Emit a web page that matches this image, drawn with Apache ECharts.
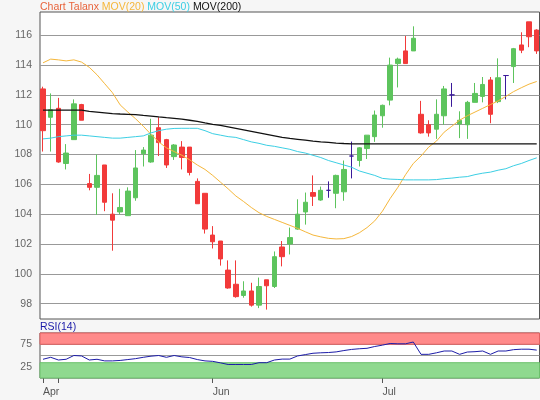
<!doctype html>
<html>
<head>
<meta charset="utf-8">
<title>Chart Talanx</title>
<script src="https://cdn.jsdelivr.net/npm/echarts@6/dist/echarts.min.js"></script>
<style>
html,body{margin:0;padding:0;background:#f6f6f6;}
</style>
</head>
<body>
<div id="chart" style="width:540px;height:400px;"></div>
<script type="text/javascript">
// daily candles (index 0 = first visible day)
var open  = [112.4,110.5,111.1,107.4,109.0,111.35,106.05,105.8,107.3,104.0,104.15,103.9,105.1,108.05,107.5,109.8,109.0,107.86,108.5,108.5,106.2,105.4,102.6,102.2,100.25,99.3,98.55,98.85,97.9,99.6,99.15,101.8,102.0,103.0,104.15,105.45,104.95,105.6,105.4,105.5,107.9,107.6,108.4,109.2,110.6,111.65,114.1,114.95,114.95,110.7,110.0,109.7,110.6,112.0,110.05,110.0,111.5,111.9,113.0,111.55,113.3,113.9,115.35,116.9,116.35];
var close = [109.6,111.0,107.5,108.1,111.4,110.3,105.8,106.6,104.8,103.6,104.45,105.55,107.1,108.3,109.3,108.8,107.3,108.64,107.8,106.8,104.7,103.0,102.15,101.0,99.05,98.47,98.85,97.9,99.15,99.2,101.15,101.15,102.43,104.0,104.8,105.2,105.6,105.6,106.6,107.0,107.9,108.45,109.3,110.65,111.3,114.0,114.4,114.1,115.8,109.45,109.45,110.7,112.4,112.0,110.3,111.5,112.1,112.7,110.7,113.15,113.3,115.1,115.0,115.9,114.95];
var low   = [108.2,108.2,107.45,107.0,109.0,110.3,105.6,103.95,104.2,101.55,104.0,103.9,104.9,107.2,107.45,107.9,107.1,107.64,107.0,106.6,104.7,102.7,101.7,100.55,99.0,98.4,98.4,97.8,97.7,97.6,99.05,100.5,101.3,102.95,103.3,104.55,104.9,105.1,104.4,104.9,106.4,107.2,107.7,108.85,109.8,111.3,112.5,114.1,114.95,109.4,109.2,109.05,110.0,111.2,109.1,109.05,111.5,111.5,110.1,111.45,111.7,112.8,114.8,115.2,114.75];
var high  = [112.55,112.1,111.8,108.7,111.7,111.4,106.7,108.0,107.3,105.4,105.7,105.8,108.3,108.5,110.4,110.5,109.05,108.7,108.9,108.5,106.4,105.4,103.2,102.2,100.9,100.9,99.5,99.4,99.75,99.6,101.5,102.2,103.1,105.0,105.45,106.6,105.85,106.2,106.65,107.6,108.87,108.5,109.3,110.95,111.35,114.5,114.5,115.95,116.6,111.6,110.3,111.7,112.6,112.8,110.9,111.6,112.8,113.2,113.2,114.45,113.3,115.15,116.2,116.9,116.4];

var mov20  = [114.15,114.4,114.35,114.28,114.35,114.2,113.85,113.35,112.75,112.15,111.33,110.85,110.4,109.9,109.35,108.85,108.45,108.2,107.95,107.65,107.3,107.0,106.6,106.15,105.7,105.22,104.85,104.45,104.1,103.85,103.65,103.45,103.25,103.05,102.82,102.6,102.48,102.38,102.34,102.36,102.5,102.75,103.1,103.55,104.2,105.05,105.8,106.65,107.4,107.9,108.5,108.9,109.5,109.9,110.3,110.6,110.85,111.1,111.35,111.6,111.9,112.22,112.48,112.72,112.9];
var mov50  = [109.05,109.1,109.2,109.25,109.3,109.3,109.25,109.2,109.15,109.1,109.1,109.15,109.2,109.25,109.45,109.6,109.7,109.75,109.76,109.76,109.76,109.6,109.4,109.3,109.2,109.15,109.0,108.85,108.75,108.62,108.55,108.45,108.35,108.2,108.1,107.95,107.8,107.6,107.45,107.3,107.15,106.9,106.75,106.6,106.4,106.35,106.33,106.3,106.3,106.3,106.3,106.32,106.38,106.42,106.48,106.52,106.65,106.75,106.82,106.95,107.05,107.25,107.4,107.6,107.78];
var mov200 = [110.98,110.98,110.98,110.98,110.98,110.98,110.9,110.85,110.8,110.75,110.72,110.7,110.68,110.62,110.58,110.52,110.47,110.43,110.38,110.3,110.22,110.12,110.03,109.95,109.85,109.75,109.65,109.55,109.45,109.35,109.25,109.15,109.08,109.02,108.96,108.9,108.85,108.81,108.77,108.74,108.72,108.71,108.71,108.71,108.71,108.71,108.71,108.71,108.71,108.71,108.71,108.71,108.71,108.71,108.71,108.71,108.71,108.71,108.71,108.71,108.71,108.71,108.71,108.71,108.71];

var rsi = [41.6,46,40,41.6,50,49,40,41.6,38,38,39,41,43,46,48.5,50,46,50,47,45.5,41,38,37,33.7,30,30,30,30,34,34,40,42,42,49,52,55,56,56.6,58,61,63.5,65,66,70,73,76.7,76,76,80,52.6,52.6,56,60,60,52.6,57.7,58.5,60,52.6,60,60,63,64,64,62];

var priceTicks = [98,100,102,104,106,108,110,112,114,116];
var rsiTicks = [25,75];
var monthTickIdx = [0,2,22,44];
var monthLabelIdx = [0,22,44];
var monthNames = ['Apr','Jun','Jul'];

var candles = [], m20 = [], m50 = [], m200 = [], rsiData = [];
for (var i = 0; i < open.length; i++) {
	candles.push([i, open[i], close[i], low[i], high[i]]);
	m20.push([i, mov20[i]]);
	m50.push([i, mov50[i]]);
	m200.push([i, mov200[i]]);
	rsiData.push([i, rsi[i]]);
}

var fontFam = '"Liberation Sans", Arial, sans-serif';
function rt(col) {
	return {color: col, fontSize: 10.5, fontWeight: 'normal', fontFamily: fontFam};
}
var mychart = echarts.init(document.getElementById('chart'));
mychart.setOption({
	animation: false,
	backgroundColor: '#f6f6f6',
	textStyle: {fontFamily: fontFam},
	title: [{
		left: 40, top: 1.5, padding: 0,
		text: '{a|Chart Talanx} {b|MOV(20)} {c|MOV(50)} {d|MOV(200)}',
		textStyle: {
			fontSize: 10.5, fontWeight: 'normal',
			rich: {a: rt('#e8643c'), b: rt('#f5b73b'), c: rt('#3ccfe4'), d: rt('#111')}
		}
	}, {
		left: 40, top: 321.5, padding: 0,
		text: 'RSI(14)',
		textStyle: rt('#1a1aa8')
	}],
	grid: [
		{left: 40, top: 12, width: 499.5, height: 307, show: true, backgroundColor: '#fff', borderColor: '#555', borderWidth: 1},
		{left: 40, top: 333, width: 499.5, height: 45, show: true, backgroundColor: '#fff', borderColor: '#555', borderWidth: 1}
	],
	xAxis: [{
		type: 'value', gridIndex: 0, min: -0.389, max: 64.36,
		axisLine: {show: false}, axisTick: {show: false}, axisLabel: {show: false}, splitLine: {show: false}
	}, {
		type: 'value', gridIndex: 1, min: -0.389, max: 64.36,
		axisLine: {show: false},
		axisTick: {show: true, length: 5, lineStyle: {color: '#555'}, customValues: monthTickIdx},
		axisLabel: {
			customValues: monthLabelIdx, color: '#555', fontSize: 10.5, margin: 9, align: 'left',
			formatter: function (v) { return monthNames[monthLabelIdx.indexOf(Math.round(v))] || ''; }
		},
		splitLine: {show: false}
	}],
	yAxis: [{
		type: 'value', gridIndex: 0, min: 96.97, max: 117.56,
		axisLine: {show: false},
		axisTick: {show: false, customValues: priceTicks},
		axisLabel: {customValues: priceTicks, color: '#666', fontSize: 10.5, margin: 8},
		splitLine: {show: true, lineStyle: {color: '#999', width: 1}}
	}, {
		type: 'value', gridIndex: 1, min: 0, max: 100,
		axisLine: {show: false},
		axisTick: {show: false, customValues: [25, 50, 75]},
		axisLabel: {customValues: rsiTicks, color: '#666', fontSize: 10.5, margin: 8},
		splitLine: {show: true, lineStyle: {color: '#999', width: 1}}
	}],
	series: [{
		name: 'Talanx',
		type: 'candlestick',
		xAxisIndex: 0, yAxisIndex: 0,
		encode: {x: 0, y: [1, 2, 3, 4]},
		barWidth: 5,
		data: candles,
		itemStyle: {
			color: '#5dc45d', color0: '#f23a3a',
			borderColor: '#5dc45d', borderColor0: '#f23a3a',
			borderColorDoji: '#3a1a9a', borderWidth: 1
		}
	}, {
		name: 'MOV(20)', type: 'line', xAxisIndex: 0, yAxisIndex: 0,
		data: m20, showSymbol: false, lineStyle: {color: '#f5b73b', width: 1}
	}, {
		name: 'MOV(50)', type: 'line', xAxisIndex: 0, yAxisIndex: 0,
		data: m50, showSymbol: false, lineStyle: {color: '#3ccfe4', width: 1}
	}, {
		name: 'MOV(200)', type: 'line', xAxisIndex: 0, yAxisIndex: 0,
		data: m200, showSymbol: false, lineStyle: {color: '#111', width: 1.3}
	}, {
		name: 'RSI(14)', type: 'line', xAxisIndex: 1, yAxisIndex: 1,
		data: rsiData, showSymbol: false, lineStyle: {color: '#1c1ca8', width: 1},
		markArea: {
			silent: true,
			data: [
				[{yAxis: 75, itemStyle: {color: '#ff8a8a', borderColor: '#e06060', borderWidth: 1}}, {yAxis: 100}],
				[{yAxis: 0, itemStyle: {color: '#8fd98f', borderColor: '#6cc06c', borderWidth: 1}}, {yAxis: 34}]
			]
		}
	}]
});
</script>
</body>
</html>
